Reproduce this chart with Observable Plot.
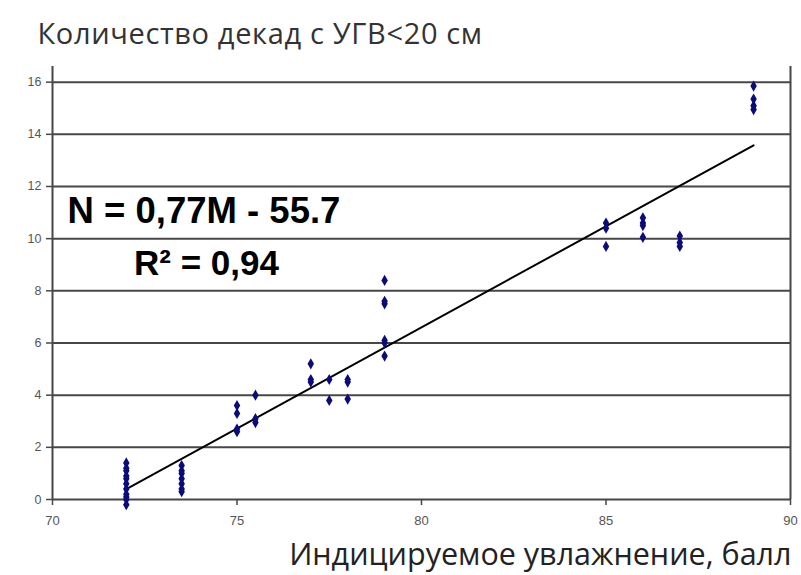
<!DOCTYPE html>
<html>
<head>
<meta charset="utf-8">
<script src="https://cdn.jsdelivr.net/npm/d3@7"></script>
<script src="https://cdn.jsdelivr.net/npm/@observablehq/plot@0.6"></script>
<style>
  html, body { margin: 0; padding: 0; background: #ffffff; }
  #chart svg { display: block; }
</style>
</head>
<body>
<div id="chart"></div>
<script>
// Data: moisture index (M) and number of decades (N)
const mValues = [
  72,72,72,72,72,72,72,72,72,72,72,
  73.5,73.5,73.5,73.5,73.5,73.5,73.5,
  75,75,75,75,
  75.5,75.5,75.5,
  77,77,77,
  77.5,77.5,
  78,78,78,
  79,79,79,79,79,79,
  85,85,85,
  86,86,86,86,
  87,87,87,
  89,89,89,89
];
const nValues = [
  -0.2,0,0.1,0.2,0.4,0.6,0.8,0.9,1.1,1.2,1.4,
  0.3,0.4,0.6,0.8,1.0,1.1,1.3,
  2.6,2.7,3.3,3.6,
  2.95,3.1,4.0,
  4.5,4.6,5.2,
  3.8,4.6,
  3.85,4.5,4.6,
  5.5,6.0,6.1,7.5,7.6,8.4,
  9.7,10.4,10.6,
  10.05,10.5,10.6,10.8,
  9.7,9.85,10.1,
  14.95,15.1,15.35,15.85
];
const xTicks = [70, 75, 80, 85, 90];
const yTicks = [0, 2, 4, 6, 8, 10, 12, 14, 16];
const titleText = "Количество декад с УГВ<20 см";
const xLabelText = "Индицируемое увлажнение, балл";
const equationText = "N = 0,77M - 55.7";
const r2Text = "R² = 0,94";

const points = mValues.map((m, i) => ({m, n: nValues[i]}));

const gridColor = "#474747";
const tickTextColor = "#555555";

const chart = Plot.plot({
  width: 801,
  height: 575,
  marginLeft: 52,
  marginRight: 11,
  marginTop: 66,
  marginBottom: 76,
  style: {background: "#ffffff", fontFamily: "Arial, 'Liberation Sans', sans-serif"},
  x: {domain: [70, 90], axis: null},
  y: {domain: [0, 16.6], axis: null},
  marks: [
    Plot.gridY(yTicks.filter(d => d > 0), {stroke: gridColor, strokeOpacity: 1, strokeWidth: 2}),
    Plot.ruleX([70, 90], {y1: 0, y2: 16.6, stroke: gridColor, strokeWidth: 2}),
    Plot.ruleY([0], {stroke: gridColor, strokeWidth: 2}),
    Plot.axisY(yTicks, {
      anchor: "left", tickSize: 6, tickPadding: 5, stroke: gridColor, strokeWidth: 1.5,
      fontSize: 12.5, fill: tickTextColor, tickFormat: d => String(d), label: null
    }),
    Plot.axisX(xTicks, {
      anchor: "bottom", tickSize: 6, tickPadding: 10, stroke: gridColor, strokeWidth: 1.5,
      fontSize: 13, fill: tickTextColor, tickFormat: d => String(d), label: null
    }),
    Plot.linearRegressionY(points, {x: "m", y: "n", ci: 0, stroke: "#000000", strokeWidth: 2}),
    Plot.dot(points, {x: "m", y: "n", symbol: "diamond", r: 3.4, fill: "#0b0b7a", stroke: null}),
    Plot.text([equationText], {
      frameAnchor: "top-left", dx: 15, dy: 145, text: d => d, textAnchor: "start", lineAnchor: "middle",
      fontSize: 36.5, fontWeight: "bold", fill: "#000000"
    }),
    Plot.text([r2Text], {
      frameAnchor: "top-left", dx: 154, dy: 197, text: d => d, textAnchor: "middle", lineAnchor: "middle",
      fontSize: 35, fontWeight: "bold", fill: "#000000"
    }),
    Plot.text([titleText], {
      frameAnchor: "top-left", dx: -15, dy: -32, text: d => d, textAnchor: "start", lineAnchor: "middle",
      fontSize: 29, fill: "#333333", fontFamily: "'Open Sans', sans-serif"
    }),
    Plot.text([xLabelText], {
      frameAnchor: "bottom-right", dx: 1, dy: 56, text: d => d, textAnchor: "end", lineAnchor: "middle",
      fontSize: 30.5, fill: "#222222", fontFamily: "'Open Sans', sans-serif"
    })
  ]
});
d3.select(chart).selectAll("text")
  .filter(function() { return this.textContent === titleText; })
  .attr("letter-spacing", "0.65px");
document.getElementById("chart").appendChild(chart);
</script>
</body>
</html>
